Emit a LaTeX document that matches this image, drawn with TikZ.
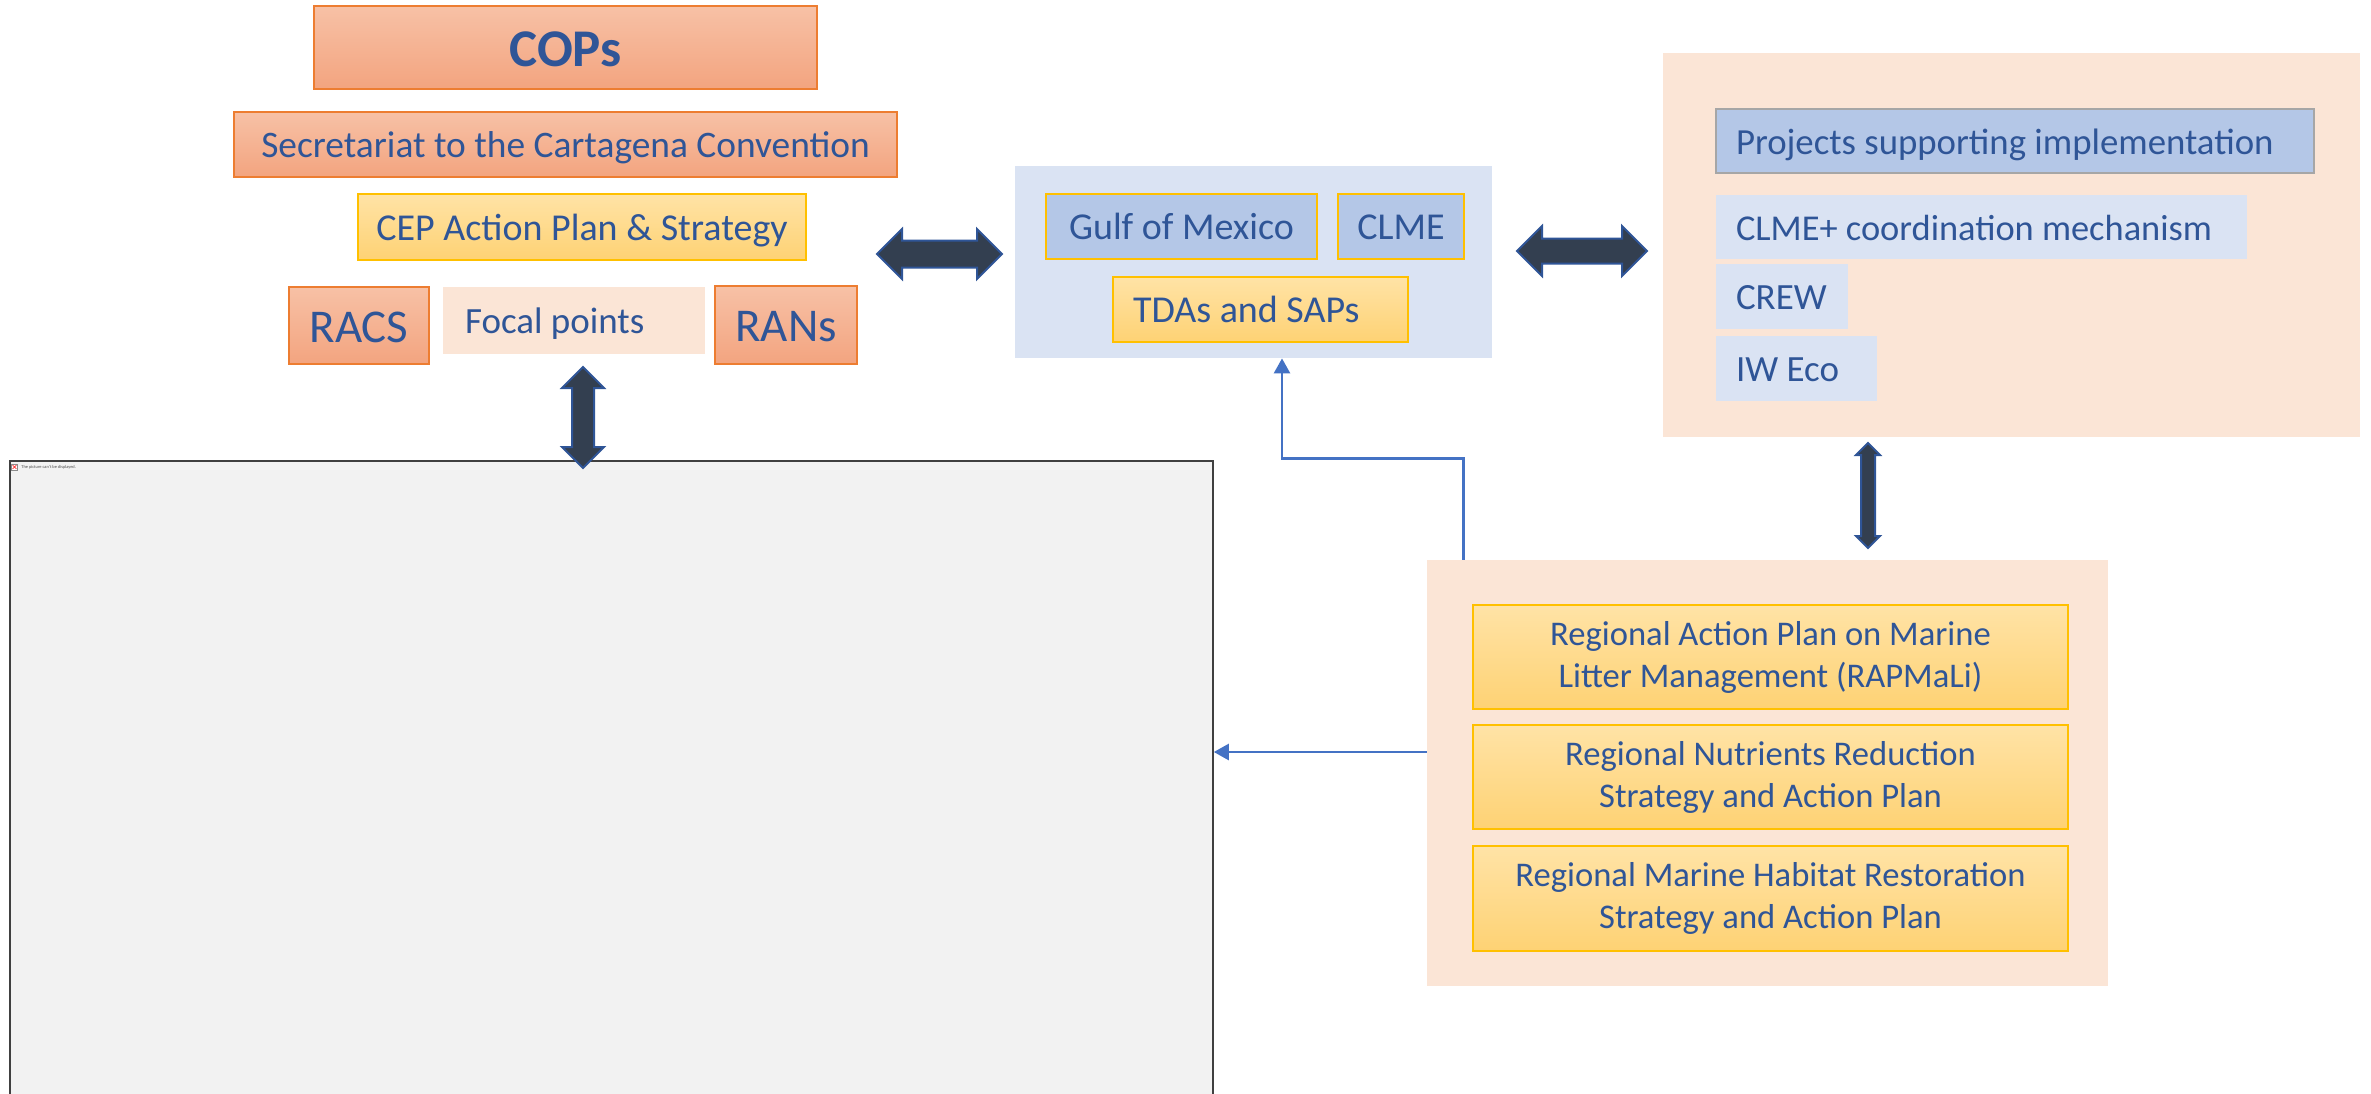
\documentclass[tikz,border=0pt]{standalone}
\usepackage{fontspec}
\setmainfont{Carlito}
\usepackage{tikz}
\usetikzlibrary{shapes.arrows,arrows.meta}

\definecolor{txtblue}{HTML}{2F5597}
\definecolor{orgtop}{HTML}{F7C1A6}
\definecolor{orgbot}{HTML}{F3A47F}
\definecolor{orgline}{HTML}{ED7D31}
\definecolor{goldtop}{HTML}{FFE3A6}
\definecolor{goldbot}{HTML}{FED274}
\definecolor{goldline}{HTML}{FFC000}
\definecolor{peach}{HTML}{FBE5D6}
\definecolor{paleblue}{HTML}{DAE3F3}
\definecolor{midblue}{HTML}{B4C7E7}
\definecolor{arrowfill}{HTML}{333F50}
\definecolor{arrowrim}{HTML}{2F5597}
\definecolor{linkblue}{HTML}{4472C4}
\definecolor{photogray}{HTML}{F2F2F2}

\begin{document}
\begin{tikzpicture}[x=0.5pt, y=-0.5pt, text=txtblue,
    box/.style = {rectangle, inner sep=0pt, font=\fontsize{19}{22}\selectfont},
    oneline/.style = {text height=#1, text depth=0pt},
    oneline/.default = 13.2pt,
    orangebox/.style = {box, draw=orgline, line width=0.8pt, top color=orgtop, bottom color=orgbot},
    goldbox/.style = {box, draw=goldline, line width=0.8pt, top color=goldtop, bottom color=goldbot},
    peachbg/.style = {box, fill=peach},
    bluebg/.style = {box, fill=paleblue},
    gulfbox/.style = {box, oneline, fill=midblue, draw=goldline, line width=0.8pt},
    leftpad/.style = {oneline, align=flush left, inner xsep=10pt, text width=#1},
    plantext/.style = {align=center, font=\fontsize{17.3}{21}\selectfont},
    fatarrow/.style = {double arrow, fill=arrowfill, draw=arrowrim, line width=1pt, inner xsep=0pt},
    link/.style = {draw=linkblue, line width=1.3pt, -{Triangle[width=8pt,length=7.5pt]}}]

\useasboundingbox (0,0) rectangle (2371,1093);
\clip (0,0) rectangle (2371,1093);

% left column
\node[orangebox, oneline=18.5pt, minimum width=251.5pt, minimum height=41.5pt, font=\fontsize{26.5}{29}\selectfont\bfseries] (cops) at (565.5,47.5) {COPs};
\node[orangebox, oneline, minimum width=331.5pt, minimum height=32.5pt, font=\fontsize{18.7}{21}\selectfont] (secr) at (565.5,144.5) {Secretariat to the Cartagena Convention};
\node[goldbox, oneline, minimum width=224pt, minimum height=33pt] (cep) at (582,227) {CEP Action Plan \& Strategy};
\node[orangebox, oneline=16.5pt, minimum width=70pt, minimum height=38.5pt, font=\fontsize{23.5}{26}\selectfont] (racs) at (359,325.5) {RACS};
\node[peachbg, minimum width=131pt, minimum height=33.5pt, leftpad=109pt, inner xsep=11pt, font=\fontsize{18.5}{21}\selectfont] (focal) at (574,320.5) {Focal points};
\node[orangebox, oneline=16.5pt, minimum width=71pt, minimum height=39pt, font=\fontsize{23.5}{26}\selectfont] (rans) at (786,325) {RANs};

% missing picture
\node[box, fill=photogray, draw=black!75, line width=0.8pt, minimum width=601.5pt, minimum height=319.5pt] (photo) at (611.5,780.5) {};
\node[box, draw=black!45, line width=0.3pt, fill=white, minimum size=3pt] (icon) at (14.5,467) {};
\draw[red, line width=0.3pt] ([shift={(0.7pt,-0.7pt)}]icon.north west) -- ([shift={(-0.7pt,0.7pt)}]icon.south east);
\draw[red, line width=0.3pt] ([shift={(-0.7pt,-0.7pt)}]icon.north east) -- ([shift={(0.7pt,0.7pt)}]icon.south west);
\node[anchor=west, inner sep=0pt, text=black!70, font=\fontsize{2.2}{2.4}\selectfont] (msg) at (21,467) {The picture can't be displayed.};

% middle group
\node[bluebg, minimum width=238.5pt, minimum height=96pt] (basin) at (1253.5,262) {};
\node[gulfbox, minimum width=135.5pt, minimum height=32.5pt] (gulf) at (1181.5,226.5) {Gulf of Mexico};
\node[gulfbox, minimum width=63pt, minimum height=32.5pt] (clme) at (1401,226.5) {CLME};
\node[goldbox, minimum width=147.5pt, minimum height=32.5pt, leftpad=127.5pt] (tdas) at (1260.5,309.5) {TDAs and SAPs};

% projects group
\node[peachbg, minimum width=348.5pt, minimum height=192pt] (projgrp) at (2011.5,245) {};
\node[box, fill=midblue, draw=black!35, line width=0.6pt, minimum width=299pt, minimum height=32pt, leftpad=279pt, font=\fontsize{18.4}{21}\selectfont] (projects) at (2015,141) {Projects supporting implementation};
\node[bluebg, minimum width=265.5pt, minimum height=32pt, leftpad=245.5pt, font=\fontsize{18.2}{21}\selectfont] (clmeplus) at (1981.5,227) {CLME+ coordination mechanism};
\node[bluebg, minimum width=66pt, minimum height=32.5pt, leftpad=46pt, font=\fontsize{18.5}{21}\selectfont] (crew) at (1782,296.5) {CREW};
\node[bluebg, minimum width=80.5pt, minimum height=32.5pt, leftpad=60.5pt, font=\fontsize{18.5}{21}\selectfont] (iweco) at (1796.5,368.5) {IW Eco};

% regional plans group
\node[peachbg, minimum width=340.5pt, minimum height=213pt] (plans) at (1767.5,773) {};
\node[goldbox, plantext, minimum width=297.5pt, minimum height=52pt] (rapmali) at (1770.5,657) {Regional Action Plan on Marine\\Litter Management (RAPMaLi)};
\node[goldbox, plantext, minimum width=297.5pt, minimum height=52pt] (nutr) at (1770.5,777) {Regional Nutrients Reduction\\Strategy and Action Plan};
\node[goldbox, plantext, minimum width=297.5pt, minimum height=52.5pt] (habitat) at (1770.5,898.5) {Regional Marine Habitat Restoration\\Strategy and Action Plan};

% block arrows
\node[fatarrow, minimum height=62.5pt, inner ysep=6.25pt, double arrow head extend=5.75pt] (linkL) at (939.5,254) {};
\node[fatarrow, minimum height=65pt, inner ysep=5.75pt, double arrow head extend=6.25pt] (linkR) at (1582,251) {};
\node[fatarrow, minimum height=50.5pt, inner ysep=5pt, double arrow head extend=5pt, rotate=90] (linkV) at (583,417.5) {};
\node[fatarrow, minimum height=52.5pt, inner ysep=3pt, double arrow head extend=2.5pt, rotate=90] (linkP) at (1868,495.5) {};

% thin connectors
\draw[link] ([xshift=18.5pt]plans.north west) -- ++(0,-101) -| ([xshift=14.25pt]basin.south);
\draw[link] ([yshift=10.5pt]plans.west) -- ([yshift=10.5pt]plans.west -| photo.east);
\end{tikzpicture}
\end{document}
